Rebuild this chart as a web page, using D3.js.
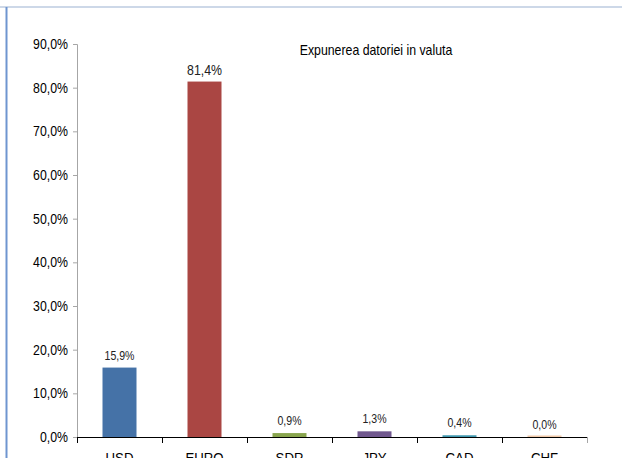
<!DOCTYPE html>
<html><head><meta charset="utf-8">
<script src="https://cdn.jsdelivr.net/npm/d3@7"></script>
<style>
body{margin:0;background:#fff;}
text{font-family:"Liberation Sans",Arial,sans-serif;}
</style></head>
<body>
<svg id="c" width="625" height="458"></svg>
<script>
const categories = ["USD","EURO","SDR","JPY","CAD","CHF"];
const values = [15.9, 81.4, 0.9, 1.3, 0.4, 0.0];
const colors = ["#4572a7","#aa4643","#89a54e","#71588f","#4198af","#db843d"];
const yTicks = [0,10,20,30,40,50,60,70,80,90];
const title = "Expunerea datoriei in valuta";

const SX = 0.88; // condensed look
const svg = d3.select("#c");
const fmt = v => v.toFixed(1).replace(".", ",") + "%";
const place = (sel, fx, fy) => sel.attr("transform",(d,i)=>`translate(${fx(d,i)},${fy(d,i)}) scale(${SX},1)`);

// frame lines
svg.append("line").attr("x1",0).attr("x2",622).attr("y1",7).attr("y2",7)
  .attr("stroke","#cdd8e8").attr("stroke-width",2);
svg.append("line").attr("x1",6.5).attr("x2",6.5).attr("y1",7).attr("y2",458)
  .attr("stroke","#6f95d0").attr("stroke-width",2);

const x = d3.scaleBand().domain(categories).range([77,587]).paddingInner(0.6).paddingOuter(0.3);
const y = d3.scaleLinear().domain([0,90]).range([437,44]);

// y axis
const ya = svg.append("g").attr("transform","translate(77,0)")
  .call(d3.axisLeft(y).tickValues(yTicks).tickSize(4).tickPadding(5).tickFormat(fmt));
ya.select(".domain").attr("stroke","#a6a6a6").attr("d","M-4,44.5H0.5V437");
ya.selectAll(".tick line").attr("stroke","#a6a6a6");
ya.selectAll("text").attr("font-size",14).attr("fill","#000")
  .attr("x",-9/SX).attr("transform",`scale(${SX},1)`);

// bars
svg.append("g").selectAll("rect").data(categories).join("rect")
  .attr("x",d=>x(d)).attr("width",x.bandwidth())
  .attr("y",(d,i)=>y(values[i]) - (values[i]===0?1.5:0))
  .attr("height",(d,i)=>Math.max(y(0)-y(values[i]),1.5))
  .attr("fill",(d,i)=>colors[i])
  .attr("opacity",(d,i)=>values[i]===0?0.45:1);

// x axis
const xa = svg.append("g").attr("transform","translate(0,437)");
xa.append("line").attr("x1",77).attr("x2",587).attr("y1",0.5).attr("y2",0.5).attr("stroke","#000");
const bounds = d3.range(categories.length+1).map(i=>77+i*(510/categories.length));
xa.selectAll("line.t").data(bounds).join("line").attr("class","t")
  .attr("x1",d=>Math.round(d)+0.5).attr("x2",d=>Math.round(d)+0.5).attr("y1",0).attr("y2",6)
  .attr("stroke",(d,i)=>i===bounds.length-1?"#a6a6a6":"#000");
place(xa.selectAll("text").data(categories).join("text")
  .attr("text-anchor","middle").attr("font-size",15).text(d=>d),
  d=>x(d)+x.bandwidth()/2, ()=>26);

// value labels
place(svg.append("g").selectAll("text").data(categories).join("text")
  .attr("text-anchor","middle")
  .attr("font-size",(d,i)=>values[i]>50?14:12)
  .attr("fill","#222")
  .text((d,i)=>fmt(values[i])),
  d=>x(d)+x.bandwidth()/2,
  (d,i)=>y(values[i]) - (values[i]>50?7:8));

// title
svg.append("text").attr("text-anchor","middle").attr("font-size",14)
  .attr("transform",`translate(376,55) scale(${SX},1)`).text(title);
</script>
</body></html>
